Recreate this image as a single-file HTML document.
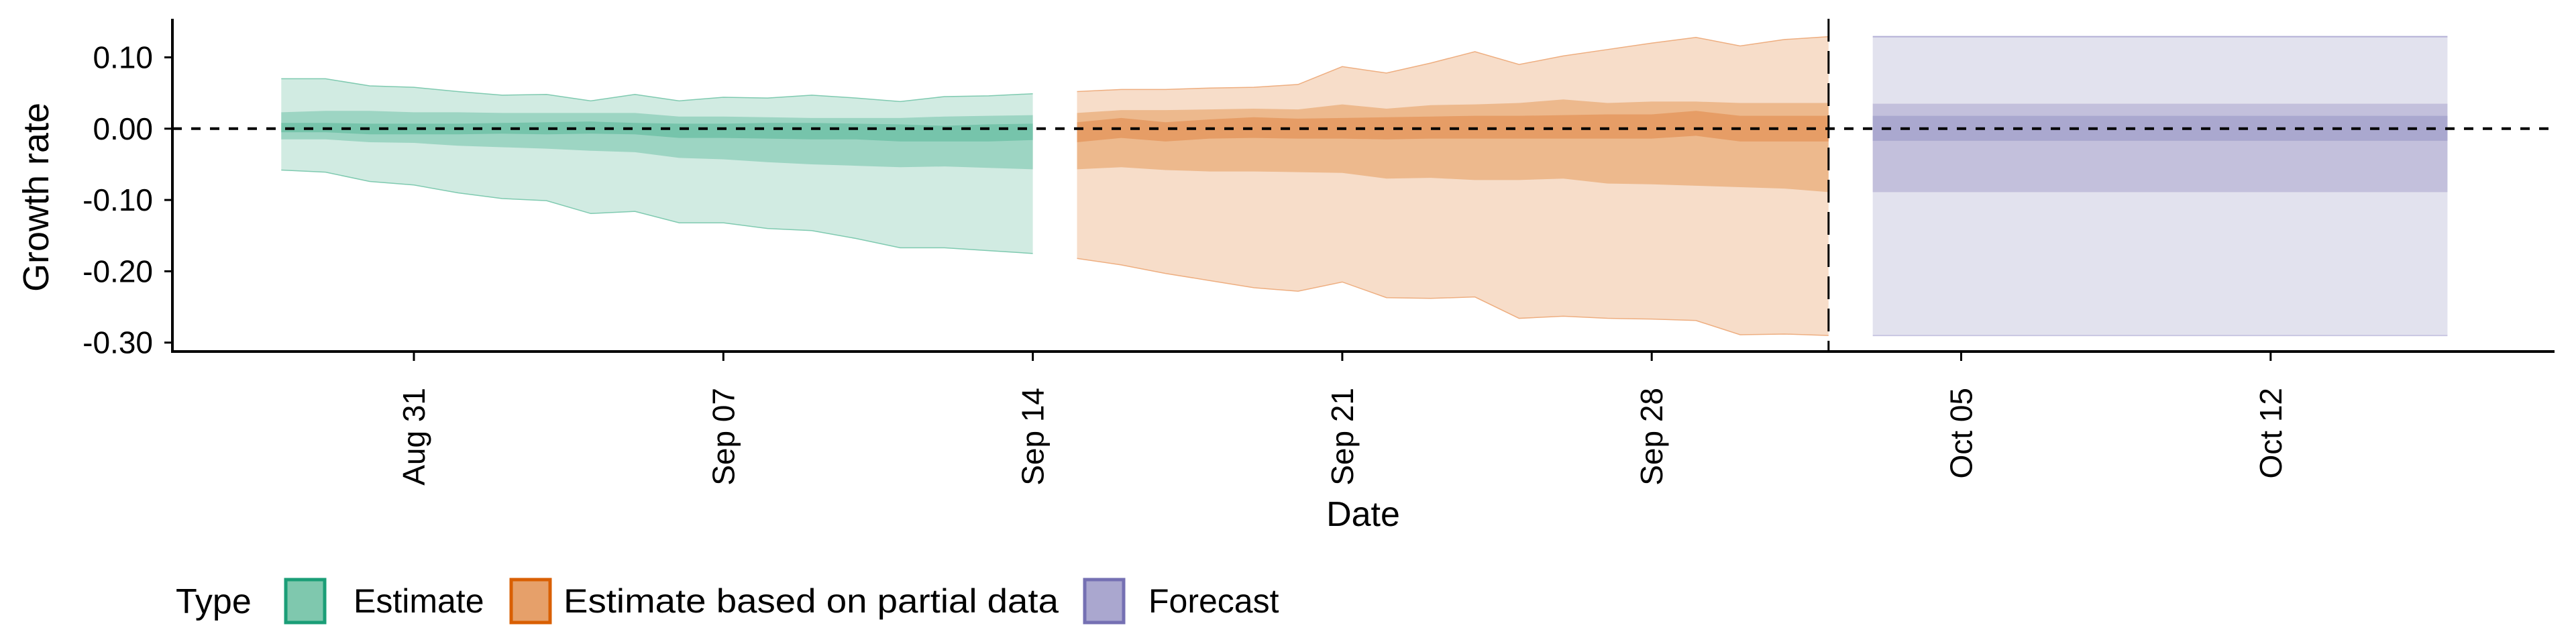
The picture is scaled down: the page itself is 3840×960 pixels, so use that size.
<!DOCTYPE html>
<html><head><meta charset="utf-8"><style>
html,body{margin:0;padding:0;background:#fff;}
svg{display:block;font-family:"Liberation Sans",sans-serif;}
</style></head><body>
<svg id="chart" width="3840" height="960" viewBox="0 0 3840 960" xmlns="http://www.w3.org/2000/svg"></svg>
<script>
const yTicks=[0.10,0.00,-0.10,-0.20,-0.30];
const yTickLabels=["0.10","0.00","-0.10","-0.20","-0.30"];
const xTickDays=[0,7,14,21,28,35,42];
const xTickLabels=["Aug 31","Sep 07","Sep 14","Sep 21","Sep 28","Oct 05","Oct 12"];
// day offsets relative to Aug 31
const estStart=-3;
const partStart=15;
const fcStart=33, fcEnd=46;
const cutDay=32;
const estOuterHi=[.070,.070,.060,.058,.052,.047,.048,.039,.048,.039,.044,.043,.047,.043,.038,.045,.046,.049];
const estOuterLo=[-.058,-.061,-.074,-.079,-.090,-.098,-.101,-.119,-.116,-.132,-.132,-.140,-.143,-.154,-.167,-.167,-.171,-.175];
const estMidHi=[.023,.025,.025,.023,.023,.022,.022,.022,.022,.017,.017,.016,.015,.015,.015,.017,.018,.019];
const estMidLo=[-.015,-.015,-.019,-.020,-.024,-.026,-.028,-.031,-.033,-.041,-.043,-.047,-.050,-.052,-.054,-.053,-.055,-.057];
const estInHi=[.008,.008,.007,.007,.007,.008,.009,.010,.008,.007,.007,.008,.008,.007,.006,.004,.006,.007];
const estInLo=[-.005,-.005,-.008,-.008,-.008,-.007,-.008,-.007,-.008,-.013,-.013,-.014,-.015,-.015,-.018,-.018,-.018,-.016];
const partOuterHi=[.052,.055,.055,.057,.058,.062,.087,.078,.092,.108,.090,.102,.111,.120,.128,.116,.125,.129];
const partOuterLo=[-.182,-.191,-.203,-.213,-.223,-.228,-.215,-.237,-.238,-.236,-.266,-.263,-.266,-.267,-.269,-.289,-.288,-.290];
const partMidHi=[.022,.026,.026,.027,.028,.027,.034,.028,.033,.034,.036,.041,.036,.038,.038,.036,.036,.036];
const partMidLo=[-.057,-.054,-.058,-.060,-.060,-.061,-.062,-.070,-.069,-.072,-.072,-.070,-.077,-.078,-.080,-.082,-.084,-.089];
const partInHi=[.009,.015,.009,.013,.016,.014,.015,.016,.017,.018,.018,.019,.020,.020,.025,.018,.018,.018];
const partInLo=[-.019,-.013,-.018,-.014,-.013,-.014,-.014,-.015,-.014,-.014,-.014,-.014,-.014,-.014,-.010,-.018,-.018,-.018];
const fcOuter=[.129,-.290];
const fcMid=[.035,-.089];
const fcIn=[.018,-.017];

const NS="http://www.w3.org/2000/svg";
const svg=document.getElementById('chart');
const X=d=>617+d*65.9;
const Y=v=>191.8-v*1063;
function mk(tag,attrs,parent){const e=document.createElementNS(NS,tag);for(const k in attrs)e.setAttribute(k,attrs[k]);(parent||svg).appendChild(e);return e;}

function band(start,hi,lo,fill,stroke,name){
  let pts=[];
  hi.forEach((v,i)=>pts.push(X(start+i)+","+Y(v)));
  for(let i=lo.length-1;i>=0;i--)pts.push(X(start+i)+","+Y(lo[i]));
  const p=mk('polygon',{points:pts.join(' '),fill:fill,stroke:'none'});
  
  
  if(stroke){
    const a=hi.map((v,i)=>X(start+i)+","+Y(v)).join(' ');
    const b=lo.map((v,i)=>X(start+i)+","+Y(v)).join(' ');
    const l1=mk('polyline',{points:a,fill:'none',stroke:stroke,'stroke-width':1.5});
    
    
    const l2=mk('polyline',{points:b,fill:'none',stroke:stroke,'stroke-width':1.5});
    
    
  }
}
band(estStart,estOuterHi,estOuterLo,'#d1ebe2','#7fcab0','estimate-band-90');
band(estStart,estMidHi,estMidLo,'#9dd5c3',null,'estimate-band-50');
band(estStart,estInHi,estInLo,'#76c4ab',null,'estimate-band-20');
band(partStart,partOuterHi,partOuterLo,'#f7ddc9','#eeae80','partial-band-90');
band(partStart,partMidHi,partMidLo,'#edb98d',null,'partial-band-50');
band(partStart,partInHi,partInLo,'#e69d66',null,'partial-band-20');
function rect(r,fill,name){
  const e=mk('rect',{x:X(fcStart),y:Y(r[0]),width:X(fcEnd)-X(fcStart),height:Y(r[1])-Y(r[0]),fill:fill});
  
  
}
rect(fcOuter,'#e2e2ee','forecast-band-90');
mk('line',{x1:X(fcStart),x2:X(fcEnd),y1:Y(fcOuter[0]),y2:Y(fcOuter[0]),stroke:'#b3b0d6','stroke-width':2});
mk('line',{x1:X(fcStart),x2:X(fcEnd),y1:Y(fcOuter[1]),y2:Y(fcOuter[1]),stroke:'#c9c7e2','stroke-width':2});
rect(fcMid,'#c3c0dc','forecast-band-50');
rect(fcIn,'#aaa8cf','forecast-band-20');

// zero line
const z=mk('line',{x1:257,x2:3808,y1:Y(0),y2:Y(0),stroke:'#000','stroke-width':4,'stroke-dasharray':'14 14'});


const vl=mk('line',{x1:X(cutDay),x2:X(cutDay),y1:28,y2:524,stroke:'#000','stroke-width':3,'stroke-dasharray':'34 14'});



// axes
const ya=mk('line',{x1:257,x2:257,y1:28,y2:526,stroke:'#000','stroke-width':4});


const xa=mk('line',{x1:255,x2:3808,y1:524,y2:524,stroke:'#000','stroke-width':4});


yTicks.forEach((v,i)=>{
  mk('line',{x1:245,x2:257,y1:Y(v),y2:Y(v),stroke:'#000','stroke-width':3});
  const t=mk('text',{x:228,y:Y(v)+16,'text-anchor':'end','font-size':46,fill:'#000'});
  t.textContent=yTickLabels[i];
  
  
});
xTickDays.forEach((d,i)=>{
  mk('line',{x1:X(d),x2:X(d),y1:524,y2:538,stroke:'#000','stroke-width':3});
  const t=mk('text',{x:0,y:0,'text-anchor':'end','font-size':46,fill:'#000',transform:`translate(${X(d)+16},578) rotate(-90)`});
  t.textContent=xTickLabels[i];
  
  
});
const yt=mk('text',{x:0,y:0,'text-anchor':'middle','font-size':54,transform:'translate(72,294) rotate(-90)'});
yt.textContent='Growth rate';


const xt=mk('text',{x:2032,y:784,'text-anchor':'middle','font-size':52});
xt.textContent='Date';



// legend
const lt=mk('text',{x:262,y:914,'font-size':52});
lt.textContent='Type';


const legKeys=[[423,'#7fc8ae','#1b9e77',527,'Estimate','legend-entry-estimate',0],[759,'#e6a06a','#d95f02',840,'Estimate based on partial data','legend-entry-partial',738],[1614,'#aaa7cf','#7570b3',1712,'Forecast','legend-entry-forecast',0]];
legKeys.forEach(k=>{
  const g=mk('g',{});
  
  
  mk('rect',{x:k[0]+3,y:864,width:58,height:64,fill:k[1],stroke:k[2],'stroke-width':5},g);
  const attrs={x:k[3],y:913,'font-size':50};
  if(k[6]){attrs.textLength=k[6];attrs.lengthAdjust='spacingAndGlyphs';}
  const t=mk('text',attrs,g);
  t.textContent=k[4];
});
</script>
</body></html>
